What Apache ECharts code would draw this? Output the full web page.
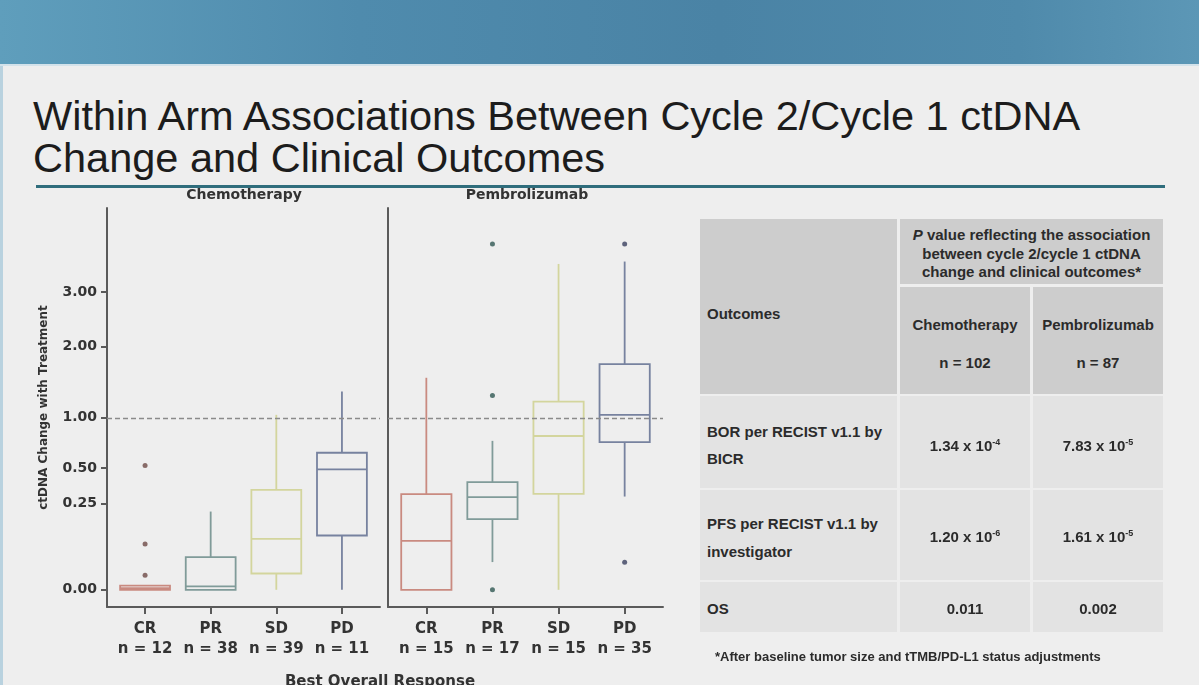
<!DOCTYPE html>
<html>
<head>
<meta charset="utf-8">
<script src="https://cdn.jsdelivr.net/npm/echarts@6/dist/echarts.min.js"></script>
<style>
html,body{margin:0;padding:0;width:1199px;height:685px;overflow:hidden;background:#eeeeee;font-family:'Liberation Sans',Arial,sans-serif;}
#banner{position:absolute;left:0;top:0;width:1199px;height:64px;background:linear-gradient(90deg,#5f9ebc 0%,#4f8bad 30%,#4a83a5 60%,#4f8aab 85%,#5c97b6 100%);}
#bannerEdge{position:absolute;left:0;top:64px;width:1199px;height:2px;background:#d3e2ea;}
#leftEdge{position:absolute;left:0;top:66px;width:3px;height:619px;background:#b9d2df;}
#title{position:absolute;left:33px;top:95px;font-size:41.5px;line-height:42px;color:#1c1c1c;white-space:nowrap;}
#rule{position:absolute;left:36px;top:185px;width:1129px;height:3px;background:#2f6d7c;}
#chart{position:absolute;left:0;top:0;width:1199px;height:685px;}
.cell{position:absolute;box-sizing:border-box;font-weight:bold;font-size:15px;color:#2b2b2b;}
.hd{background:#cdcdcd;}
.bd{background:#e3e3e3;}
.ctr{text-align:center;}
sup{font-size:9px;line-height:0;vertical-align:6px;}
#foot{position:absolute;left:715px;top:649px;font-size:13px;line-height:16px;font-weight:bold;color:#2b2b2b;white-space:nowrap;}
</style>
</head>
<body>
<div id="banner"></div>
<div id="bannerEdge"></div>
<div id="leftEdge"></div>
<div id="title">Within Arm Associations Between Cycle 2/Cycle 1 ctDNA<br>Change and Clinical Outcomes</div>
<div id="rule"></div>
<div id="chart"></div>

<div class="cell hd" style="left:700px;top:219px;width:197px;height:175px;padding:86px 0 0 7px;line-height:18px;">Outcomes</div>
<div class="cell hd ctr" style="left:900px;top:219px;width:263px;height:65px;padding-top:7px;line-height:18.5px;"><i>P</i> value reflecting the association<br>between cycle 2/cycle 1 ctDNA<br>change and clinical outcomes*</div>
<div class="cell hd ctr" style="left:900px;top:287px;width:130px;height:107px;padding-top:28px;line-height:19px;">Chemotherapy<br><br>n = 102</div>
<div class="cell hd ctr" style="left:1033px;top:287px;width:130px;height:107px;padding-top:28px;line-height:19px;">Pembrolizumab<br><br>n = 87</div>

<div class="cell bd" style="left:700px;top:396px;width:197px;height:92px;padding:22px 0 0 7px;line-height:27px;">BOR per RECIST v1.1 by<br>BICR</div>
<div class="cell bd ctr" style="left:900px;top:396px;width:130px;height:92px;padding-top:36px;line-height:27px;">1.34 x 10<sup>-4</sup></div>
<div class="cell bd ctr" style="left:1033px;top:396px;width:130px;height:92px;padding-top:36px;line-height:27px;">7.83 x 10<sup>-5</sup></div>

<div class="cell bd" style="left:700px;top:490px;width:197px;height:90px;padding:20px 0 0 7px;line-height:28px;">PFS per RECIST v1.1 by<br>investigator</div>
<div class="cell bd ctr" style="left:900px;top:490px;width:130px;height:90px;padding-top:33px;line-height:28px;">1.20 x 10<sup>-6</sup></div>
<div class="cell bd ctr" style="left:1033px;top:490px;width:130px;height:90px;padding-top:33px;line-height:28px;">1.61 x 10<sup>-5</sup></div>

<div class="cell bd" style="left:700px;top:582px;width:197px;height:50px;padding:13px 0 0 7px;line-height:27px;">OS</div>
<div class="cell bd ctr" style="left:900px;top:582px;width:130px;height:50px;padding-top:13px;line-height:27px;">0.011</div>
<div class="cell bd ctr" style="left:1033px;top:582px;width:130px;height:50px;padding-top:13px;line-height:27px;">0.002</div>

<div id="foot">*After baseline tumor size and tTMB/PD-L1 status adjustments</div>

<script>
// ---- data ----
const categories = ['CR', 'PR', 'SD', 'PD'];
const chemoN = [12, 38, 39, 11];
const pembroN = [15, 17, 15, 35];
const yTickValues = [0, 0.25, 0.5, 1, 2, 3];
// box statistics: [min, Q1, median, Q3, max]
const chemoBox = [
  [0, 0, 0.0001, 0.0006, 0.0006],
  [0, 0, 0.0004, 0.036, 0.207],
  [0, 0.009, 0.088, 0.338, 1.035],
  [0, 0.0997, 0.490, 0.635, 1.33]
];
const pembroBox = [
  [0, 0, 0.081, 0.31, 1.52],
  [0.026, 0.169, 0.29, 0.392, 0.75],
  [0, 0.3115, 0.80, 1.197, 3.59],
  [0.294, 0.737, 1.034, 1.722, 3.643]
];
// outliers: [category index, value]
const chemoOutliers = [[0, 0.522], [0, 0.0706], [0, 0.0072]];
const pembroOutliers = [[1, 4.04], [1, 1.276], [1, 0], [3, 4.04], [3, 0.0256]];
const referenceValue = 1;

// ---- styling ----
const boxColors = ['#c98a80', '#809b99', '#d3d59d', '#77829f'];
const dotColors = ['#6e4a46', '#2f5753', '#c8ca90', '#39405f'];
const chartFont = 'DejaVu Sans';
const axisColor = '#5a5a5a';
const boxWidthUnits = 0.76;
const sq = Math.sqrt;

function boxData(stats) {
  return stats.map((s, i) => [i].concat(s.map(sq)));
}
function outlierData(list) {
  return list.map(p => ({ value: [p[0], sq(p[1])], itemStyle: { color: dotColors[p[0]] } }));
}
function renderBox(params, api) {
  const idx = Math.round(api.value(0));
  const x = api.value(0);
  const p = [1, 2, 3, 4, 5].map(d => api.coord([x, api.value(d)]));
  const cx = p[0][0];
  const half = api.size([boxWidthUnits, 0])[0] / 2;
  const style = { stroke: boxColors[idx], lineWidth: 1.8, fill: null };
  return {
    type: 'group',
    children: [
      { type: 'line', shape: { x1: cx, y1: p[0][1], x2: cx, y2: p[1][1] }, style: style },
      { type: 'line', shape: { x1: cx, y1: p[3][1], x2: cx, y2: p[4][1] }, style: style },
      { type: 'rect', shape: { x: cx - half, y: p[3][1], width: 2 * half, height: p[1][1] - p[3][1] }, style: style },
      { type: 'line', shape: { x1: cx - half, y1: p[2][1], x2: cx + half, y2: p[2][1] }, style: style }
    ]
  };
}

const xTicks = categories.map((c, i) => i);
function makeX(gridIndex, nList) {
  return {
    type: 'value', gridIndex: gridIndex, min: -0.58, max: 3.58,
    splitLine: { show: false },
    axisLine: { show: true, onZero: false, lineStyle: { color: axisColor, width: 2 } },
    axisTick: { show: true, customValues: xTicks, length: 7, lineStyle: { color: axisColor, width: 2 } },
    axisLabel: {
      customValues: xTicks,
      formatter: v => categories[Math.round(v)] + '\nn = ' + nList[Math.round(v)],
      fontFamily: chartFont, fontWeight: 'bold', fontSize: 15, color: '#333', lineHeight: 20, margin: 12
    }
  };
}
const yCustom = yTickValues.map(sq);
function makeY(gridIndex, showLabels) {
  const y = {
    type: 'value', gridIndex: gridIndex, min: -0.1, max: 2.22,
    splitLine: { show: false },
    axisLine: { show: true, onZero: false, lineStyle: { color: axisColor, width: 2 } },
    axisTick: { show: showLabels, customValues: yCustom, length: 6, lineStyle: { color: axisColor, width: 2 } },
    axisLabel: {
      show: showLabels, customValues: yCustom,
      formatter: v => (v * v).toFixed(2),
      fontFamily: chartFont, fontWeight: 'bold', fontSize: 14, color: '#333', margin: 10
    }
  };
  if (showLabels) {
    y.name = 'ctDNA Change with Treatment';
    y.nameLocation = 'middle';
    y.nameGap = 57;
    y.nameTextStyle = { fontFamily: chartFont, fontWeight: 'bold', fontSize: 12, color: '#333' };
  }
  return y;
}
const refMark = {
  silent: true, symbol: 'none', label: { show: false },
  lineStyle: { color: '#8a8a8a', type: [5, 3], width: 1.3 },
  data: [{ yAxis: sq(referenceValue) }]
};

const chart = echarts.init(document.getElementById('chart'), null, { renderer: 'canvas' });
chart.setOption({
  backgroundColor: 'transparent',
  animation: false,
  title: [
    { text: 'Chemotherapy', left: 244, top: 188, padding: 0, textAlign: 'center',
      textStyle: { fontFamily: chartFont, fontWeight: 'bold', fontSize: 14, color: '#333' } },
    { text: 'Pembrolizumab', left: 527, top: 188, padding: 0, textAlign: 'center',
      textStyle: { fontFamily: chartFont, fontWeight: 'bold', fontSize: 14, color: '#333' } },
    { text: 'Best Overall Response', left: 380, top: 675, padding: 0, textAlign: 'center',
      textStyle: { fontFamily: chartFont, fontWeight: 'bold', fontSize: 15, color: '#333' } }
  ],
  grid: [
    { left: 107, right: 1199 - 380, top: 208, bottom: 685 - 607 },
    { left: 388, right: 1199 - 663, top: 208, bottom: 685 - 607 }
  ],
  xAxis: [makeX(0, chemoN), makeX(1, pembroN)],
  yAxis: [makeY(0, true), makeY(1, false)],
  series: [
    { type: 'custom', xAxisIndex: 0, yAxisIndex: 0, renderItem: renderBox,
      encode: { x: 0, y: [1, 2, 3, 4, 5] }, data: boxData(chemoBox), markLine: refMark },
    { type: 'custom', xAxisIndex: 1, yAxisIndex: 1, renderItem: renderBox,
      encode: { x: 0, y: [1, 2, 3, 4, 5] }, data: boxData(pembroBox), markLine: refMark },
    { type: 'scatter', xAxisIndex: 0, yAxisIndex: 0, symbolSize: 5, data: outlierData(chemoOutliers) },
    { type: 'scatter', xAxisIndex: 1, yAxisIndex: 1, symbolSize: 5, data: outlierData(pembroOutliers) }
  ]
});
</script>
</body>
</html>
